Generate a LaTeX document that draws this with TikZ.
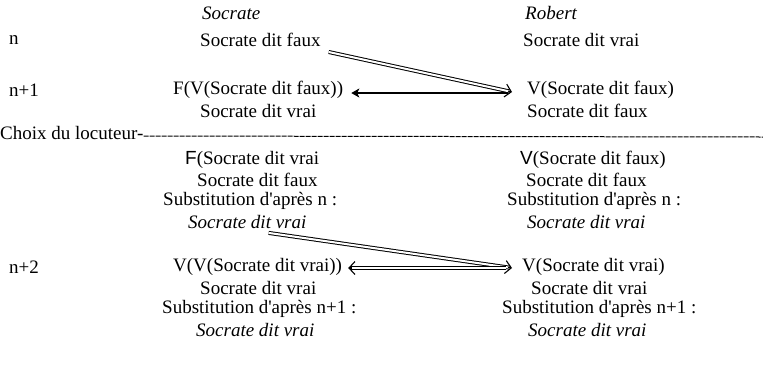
\documentclass[tikz,border=0pt]{standalone}
\usepackage{fontspec}
\setmainfont{Liberation Serif}
\setsansfont{Liberation Sans}
\usetikzlibrary{arrows.meta,calc}
\tikzset{
  txt/.style={anchor=west, inner sep=0pt, font=\fontsize{19}{22}\selectfont},
  dbl/.style={double, double distance=2pt, line width=1pt, shorten >=2pt},
  barb/.style={line width=1.1pt, -{Straight Barb[length=6pt, width=13pt]}},
  sgl/.style={line width=1.2pt, -{Stealth[length=8pt, width=9pt, inset=2pt]}}
}
\newcommand{\apos}{\textquotesingle}
\begin{document}
\begin{tikzpicture}[x=1pt, y=-1pt]
                \useasboundingbox (0,0) rectangle (763,368);
                \node[txt] (rn) at (9,40) {n};
                \node[txt] (rn1) at (9,90) {n+1};
                \node[txt] (choix) at (0,133) {Choix du locuteur-};
                \node[txt] (rn2) at (9,267) {n+2};

                \node[txt] (soc) at (202,13) {\textit{Socrate}};
                \node[txt] (rob) at (525,13) {\textit{Robert}};

                \node[txt] (sdf) at (200,40) {Socrate dit faux};
                \node[txt] (rsdv) at (523,40) {Socrate dit vrai};

                \node[txt] (fvsf) at (173,90) {F(V(Socrate dit faux))};
                \node[txt] (sdv1) at (200,111) {Socrate dit vrai};
                \node[txt] (vsf) at (527,90) {V(Socrate dit faux)};
                \node[txt] (rsdf1) at (527,111) {Socrate dit faux};

                \node[txt] (fsv) at (185,160) {\textsf{F}(Socrate dit vrai};
                \node[txt] (sdf2) at (197,180) {Socrate dit faux};
                \node[txt] (subn) at (163,201) {Substitution d\apos après n :};
                \node[txt] (isv) at (188,222) {\textit{Socrate dit vrai}};
                \node[txt] (vsf2) at (520,160) {\textsf{V}(Socrate dit faux)};
                \node[txt] (rsdf2) at (526,180) {Socrate dit faux};
                \node[txt] (rsubn) at (507,201) {Substitution d\apos après n :};
                \node[txt] (risv) at (527,222) {\textit{Socrate dit vrai}};

                \node[txt] (vvsv) at (173,267) {V(V(Socrate dit vrai))};
                \node[txt] (sdv3) at (200,288) {Socrate dit vrai};
                \node[txt] (subn1) at (162,309) {Substitution d\apos après n+1 :};
                \node[txt] (isv3) at (196,330) {\textit{Socrate dit vrai}};
                \node[txt] (vsv) at (522,267) {V(Socrate dit vrai)};
                \node[txt] (rsdv3) at (531,288) {Socrate dit vrai};
                \node[txt] (rsubn1) at (502,309) {Substitution d\apos après n+1 :};
                \node[txt] (risv3) at (528,330) {\textit{Socrate dit vrai}};

                \coordinate (lineend) at (763,137);
                \draw[line width=1pt, dash pattern=on 5pt off 1pt] ([yshift=-3pt]choix.east) -- (lineend);

                % arrow ends
                \coordinate (a1) at ([xshift=8pt, yshift=-5pt]sdf.south east);
                \coordinate (b1) at ([xshift=-15pt, yshift=-2pt]vsf.west);
                \coordinate (a2) at ([xshift=-38pt, yshift=-4pt]isv.south east);
                \coordinate (b2) at ([xshift=-10pt, yshift=-1pt]vsv.west);
                \coordinate (a3) at ([xshift=-16pt, yshift=-1pt]vsv.west);
                \coordinate (b3) at ([xshift=6pt, yshift=-1pt]vvsv.east);

                \draw[dbl] (a1) -- (b1);
                \draw[barb] ($(b1)!4pt!(a1)$) -- (b1);
                \draw[sgl] ([xshift=-19pt, yshift=-3pt]vsf.west) to ([xshift=8pt, yshift=-3pt]fvsf.east);
                \draw[dbl] (a2) -- (b2);
                \draw[barb] ($(b2)!4pt!(a2)$) -- (b2);
                \draw[dbl] (a3) -- (b3);
                \draw[barb] ($(b3)!4pt!(a3)$) -- (b3);
            \end{tikzpicture}
\end{document}
